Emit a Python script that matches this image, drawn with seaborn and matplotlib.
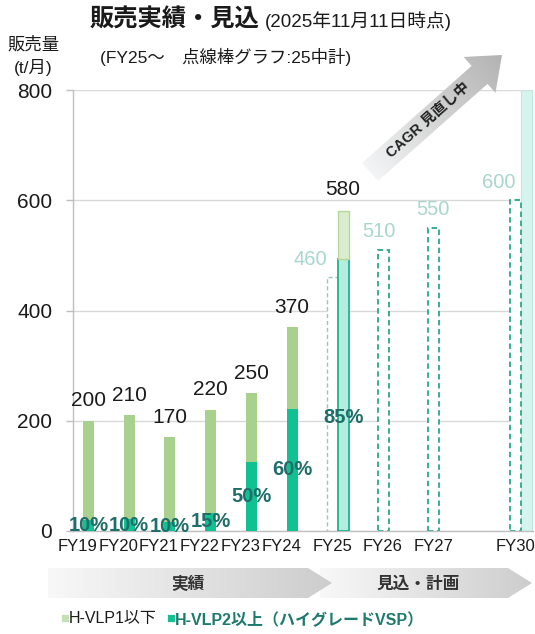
import numpy as np
import pandas as pd
import seaborn as sns
import matplotlib.pyplot as plt
from matplotlib.patches import Polygon
from matplotlib.colors import LinearSegmentedColormap

# Data
years = ['FY19', 'FY20', 'FY21', 'FY22', 'FY23', 'FY24', 'FY25', 'FY26', 'FY27', 'FY30']
actual_total = [200, 210, 170, 220, 250, 370]          # t/month
actual_share = [10, 10, 10, 15, 50, 60]                 # % H-VLP2 and above
fy25_total = 580
fy25_share = 85
plan_values = [460, 510, 550, 600]                      # FY25, FY26, FY27, FY30 (dashed)
fy30_bar = 800                                          # runs past the top of the axis

# Layout
W, H = 535, 634
slot = [0, 1, 2, 3, 4, 5, 6.25, 7.5, 8.75, 10.75]
bw = 0.27
plan_label_dx = [-0.54, -0.09, -0.02, -0.4]

C_LIGHT = '#a9d18e'
C_TEAL = '#12c191'
C_PCT = '#1f6e69'
C_PLAN = '#a9d6cd'

sns.set_theme(style='white')
plt.rcParams['font.family'] = ['Liberation Sans', 'Noto Sans CJK JP']

fig = plt.figure(figsize=(W / 100, H / 100), dpi=100)
ax = fig.add_axes([73 / W, 1 - 531 / H, (533 - 73) / W, (531 - 90) / H])

# actual bars (stacked)
df = pd.DataFrame({
    'x': [slot[i] + bw for i in range(6)],
    'total': actual_total,
    'hv2': [t * s / 100 for t, s in zip(actual_total, actual_share)],
})
sns.barplot(data=df, x='x', y='total', native_scale=True, width=bw, color=C_LIGHT,
            saturation=1, errorbar=None, linewidth=0, ax=ax, zorder=3)
sns.barplot(data=df, x='x', y='hv2', native_scale=True, width=bw, color=C_TEAL,
            saturation=1, errorbar=None, linewidth=0, ax=ax, zorder=3)

# FY25 outlook bar
fy25_hv2 = fy25_total * fy25_share / 100
x25 = slot[6] + bw
ax.bar(x25, fy25_hv2, width=bw, color='#b6ebdf', edgecolor='#1fb48e', lw=1.3, zorder=3)
ax.bar(x25, fy25_total - fy25_hv2, bottom=fy25_hv2, width=bw, color='#dcedcf',
       edgecolor='#b5d79c', lw=1.0, zorder=3)

# FY30 light bar
ax.bar(slot[9] + bw, fy30_bar, width=bw, color='#d6f4ee', edgecolor='#bfe9df', lw=0.8, zorder=2)

# dashed plan bars (medium-term plan)
plan_slots = [slot[6], slot[7], slot[8], slot[9]]
for i, (xp, v) in enumerate(zip(plan_slots, plan_values)):
    ec = '#9cc4c6' if i == 0 else '#2aa88a'
    lw = 1.0 if i == 0 else 1.3
    ax.bar(xp, v, width=bw, facecolor='white', edgecolor=ec, lw=lw,
           linestyle=(0, (3, 2)), zorder=2)
    ax.text(xp + plan_label_dx[i], v + 33, str(v), ha='center', va='center',
            fontsize=14.5, color=C_PLAN)

# value labels
for i, t in enumerate(actual_total):
    ax.text(slot[i] + bw, t + 36, str(t), ha='center', va='center', fontsize=15, color='#1a1a1a')
ax.text(x25, fy25_total + 40, str(fy25_total), ha='center', va='center', fontsize=15, color='#1a1a1a')

# share labels
for i, (t, s) in enumerate(zip(actual_total, actual_share)):
    ax.text(slot[i] + bw, max(t * s / 200, 8), f'{s}%', ha='center', va='center',
            fontsize=14.5, fontweight='bold', color=C_PCT, zorder=5)
ax.text(x25, fy25_hv2 / 2 - 40, f'{fy25_share}%', ha='center', va='center',
        fontsize=14.5, fontweight='bold', color=C_PCT, zorder=5)

ax.set_xlim(-0.11, 11.18)
ax.set_ylim(0, 800)
ax.set_yticks([0, 200, 400, 600, 800])
ax.set_xticks(slot)
ax.set_xticklabels(years)
ax.set_xlabel('')
ax.set_ylabel('')
ax.yaxis.grid(True, color='#d9d9d9', lw=1)
ax.set_axisbelow(True)
ax.tick_params(axis='x', length=0, pad=6, labelsize=12, labelcolor='#1a1a1a')
ax.tick_params(axis='y', length=5, width=1, color='#bfbfbf', pad=10, labelsize=15,
               labelcolor='#1a1a1a', left=True)
for side in ['top', 'right']:
    ax.spines[side].set_visible(False)
for side in ['left', 'bottom']:
    ax.spines[side].set_color('#bfbfbf')
    ax.spines[side].set_linewidth(1)

# overlay in pixel coordinates for the decorations
ov = fig.add_axes([0, 0, 1, 1], zorder=5)
ov.patch.set_visible(False)
ov.axis('off')
ov.set_xlim(0, W)
ov.set_ylim(H, 0)


def grad_poly(pts, c0, c1, direction):
    poly = Polygon(pts, closed=True, facecolor='none', edgecolor='none')
    ov.add_patch(poly)
    xs = [p[0] for p in pts]
    ys = [p[1] for p in pts]
    x0, x1, y0, y1 = min(xs), max(xs), min(ys), max(ys)
    gx, gy = np.meshgrid(np.linspace(x0, x1, 200), np.linspace(y0, y1, 200))
    t = (gx - x0) * direction[0] + (gy - y0) * direction[1]
    t = (t - t.min()) / (t.max() - t.min())
    cmap = LinearSegmentedColormap.from_list('g', [c0, c1])
    im = ov.imshow(t, extent=(x0, x1, y1, y0), cmap=cmap, aspect='auto',
                   interpolation='bilinear')
    im.set_clip_path(poly)


# CAGR arrow
T = np.array([370.0, 172.0])
P = np.array([502.0, 55.0])
u = (P - T) / np.linalg.norm(P - T)
n = np.array([-u[1], u[0]])
neck = P - u * 30
arrow = [T - n * 12, neck - n * 12, neck - n * 24, P, neck + n * 24, neck + n * 12, T + n * 12]
grad_poly(arrow, '#f8f9fa', '#b3b3b3', u)
ang = np.degrees(np.arctan2(-(P - T)[1], (P - T)[0]))
mid = T + u * 78
ov.text(mid[0], mid[1], 'CAGR 見直し中', rotation=ang, rotation_mode='anchor',
        ha='center', va='center', fontsize=10.5, fontweight='bold', color='#222222')

# period bands
band1 = [(48, 568), (308, 568), (332, 583), (308, 598), (48, 598)]
band2 = [(320, 568), (508, 568), (532, 583), (508, 598), (320, 598)]
grad_poly(band2, '#f8f8f8', '#cdcdcd', (1, 0))
grad_poly(band1, '#f8f8f8', '#cdcdcd', (1, 0))
ov.text(188, 584, '実績', ha='center', va='center', fontsize=12, fontweight='bold', color='#333333')
ov.text(418, 584, '見込・計画', ha='center', va='center', fontsize=12, fontweight='bold', color='#333333')

# titles
ov.text(90, 27, '販売実績・見込', ha='left', va='baseline', fontsize=17.5, fontweight='bold', color='#1a1a1a')
ov.text(265, 27, '(2025年11月11日時点)', ha='left', va='baseline', fontsize=13.5, color='#1a1a1a')
ov.text(100, 57, '(FY25～　点線棒グラフ:25中計)', ha='left', va='center', fontsize=12.5, color='#1a1a1a')
ov.text(33, 44, '販売量', ha='center', va='center', fontsize=12.5, color='#1a1a1a')
ov.text(33, 67, '(t/月)', ha='center', va='center', fontsize=12.5, color='#1a1a1a')

# legend: chain the pieces by their rendered widths
fig.canvas.draw()
inv = ov.transData.inverted()
x = 60
pieces = [('■', '#c5e0b4', 'normal', 10.5), ('H-VLP1以下', '#1a1a1a', 'normal', 11.5),
          ('  ', '#1a1a1a', 'normal', 11.5), ('■', C_TEAL, 'normal', 10.5),
          ('H-VLP2以上（ハイグレードVSP）', '#1f7a6e', 'bold', 11.5)]
for s, c, fw, fs in pieces:
    t = ov.text(x, 619, s, ha='left', va='center', fontsize=fs, fontweight=fw, color=c)
    bb = t.get_window_extent(renderer=fig.canvas.get_renderer())
    x = inv.transform((bb.x1, bb.y0))[0]

fig.savefig('out.png', dpi=100)
